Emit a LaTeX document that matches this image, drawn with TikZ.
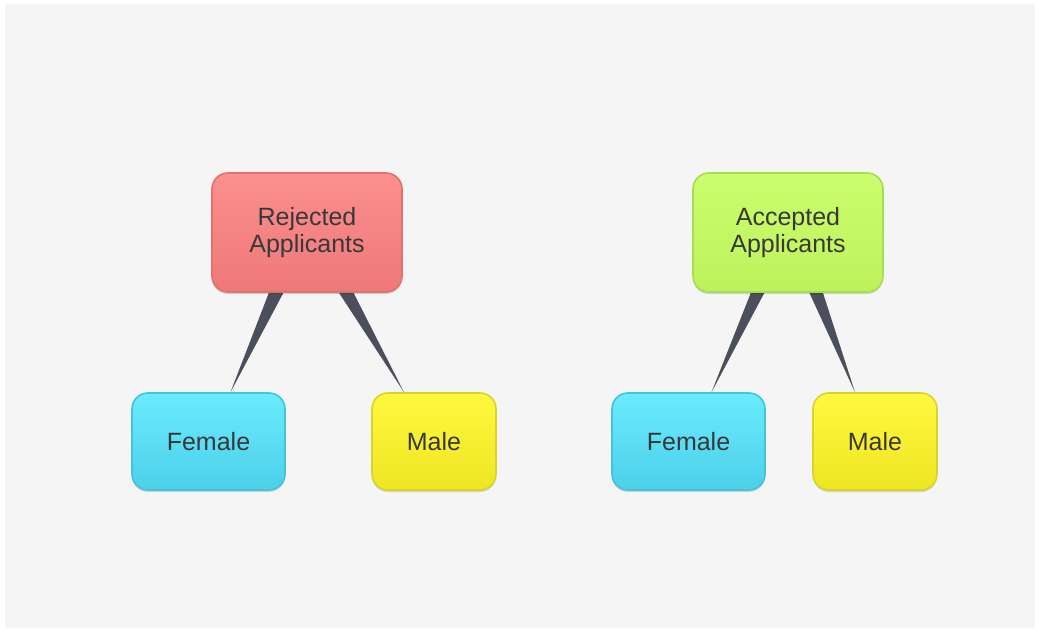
\documentclass[tikz,border=0pt]{standalone}
\usepackage{fontspec}
\setmainfont{Liberation Sans}
\usetikzlibrary{backgrounds,shadows}
\definecolor{bgray}{HTML}{F5F5F5}
\definecolor{txt}{HTML}{383838}
\definecolor{conn}{HTML}{4B4F5C}
\definecolor{rejT}{HTML}{FC8F8F}
\definecolor{rejB}{HTML}{EE7878}
\definecolor{rejD}{HTML}{E07272}
\definecolor{accT}{HTML}{CBFD6E}
\definecolor{accB}{HTML}{BDF25C}
\definecolor{accD}{HTML}{A6DE4E}
\definecolor{femT}{HTML}{6AEBFF}
\definecolor{femB}{HTML}{4CD0E9}
\definecolor{femD}{HTML}{45C2DC}
\definecolor{malT}{HTML}{FFF93E}
\definecolor{malB}{HTML}{EEE523}
\definecolor{malD}{HTML}{DAD32A}
\tikzset{
  box/.style={rounded corners=16pt, line width=1.6pt, align=center, text=txt,
    font=\fontsize{25}{27}\selectfont, inner sep=0pt,
    drop shadow={shadow xshift=0pt, shadow yshift=-2pt, opacity=0.15, fill=black}},
  rejbox/.style={box, draw=rejD, top color=rejT, bottom color=rejB, minimum width=190pt, minimum height=119pt},
  accbox/.style={box, draw=accD, top color=accT, bottom color=accB, minimum width=190pt, minimum height=119pt},
  fembox/.style={box, draw=femD, top color=femT, bottom color=femB, minimum width=153pt, minimum height=97pt},
  malbox/.style={box, draw=malD, top color=malT, bottom color=malB, minimum width=124pt, minimum height=97pt},
  wedge/.style={fill=conn}
}
\begin{document}
\begin{tikzpicture}[x=1pt,y=-1pt]
\begin{pgfonlayer}{background}
\fill[white] (0,0) rectangle (1039,632);
\fill[bgray] (5,4) rectangle (1035,628);
\end{pgfonlayer}
\useasboundingbox (0,0) rectangle (1039,632);

\node[rejbox] (rej) at (307,232.5) {Rejected\\Applicants};
\node[accbox] (acc) at (788,232.5) {Accepted\\Applicants};
\node[fembox] (fl) at (208.5,441.5) {Female};
\node[malbox] (ml) at (434,441.5) {Male};
\node[fembox] (fr) at (688.5,441.5) {Female};
\node[malbox] (mr) at (875,441.5) {Male};

\begin{pgfonlayer}{background}
\fill[wedge] ([xshift=-37pt,yshift=3pt]rej.south) -- ([xshift=-22pt,yshift=3pt]rej.south) -- ([xshift=22pt]fl.north) -- cycle;
\fill[wedge] ([xshift=30pt,yshift=3pt]rej.south) -- ([xshift=45pt,yshift=3pt]rej.south) -- ([xshift=-30pt]ml.north) -- cycle;
\fill[wedge] ([xshift=-36pt,yshift=3pt]acc.south) -- ([xshift=-22pt,yshift=3pt]acc.south) -- ([xshift=23pt]fr.north) -- cycle;
\fill[wedge] ([xshift=20pt,yshift=3pt]acc.south) -- ([xshift=34pt,yshift=3pt]acc.south) -- ([xshift=-20pt]mr.north) -- cycle;
\end{pgfonlayer}
\end{tikzpicture}
\end{document}
